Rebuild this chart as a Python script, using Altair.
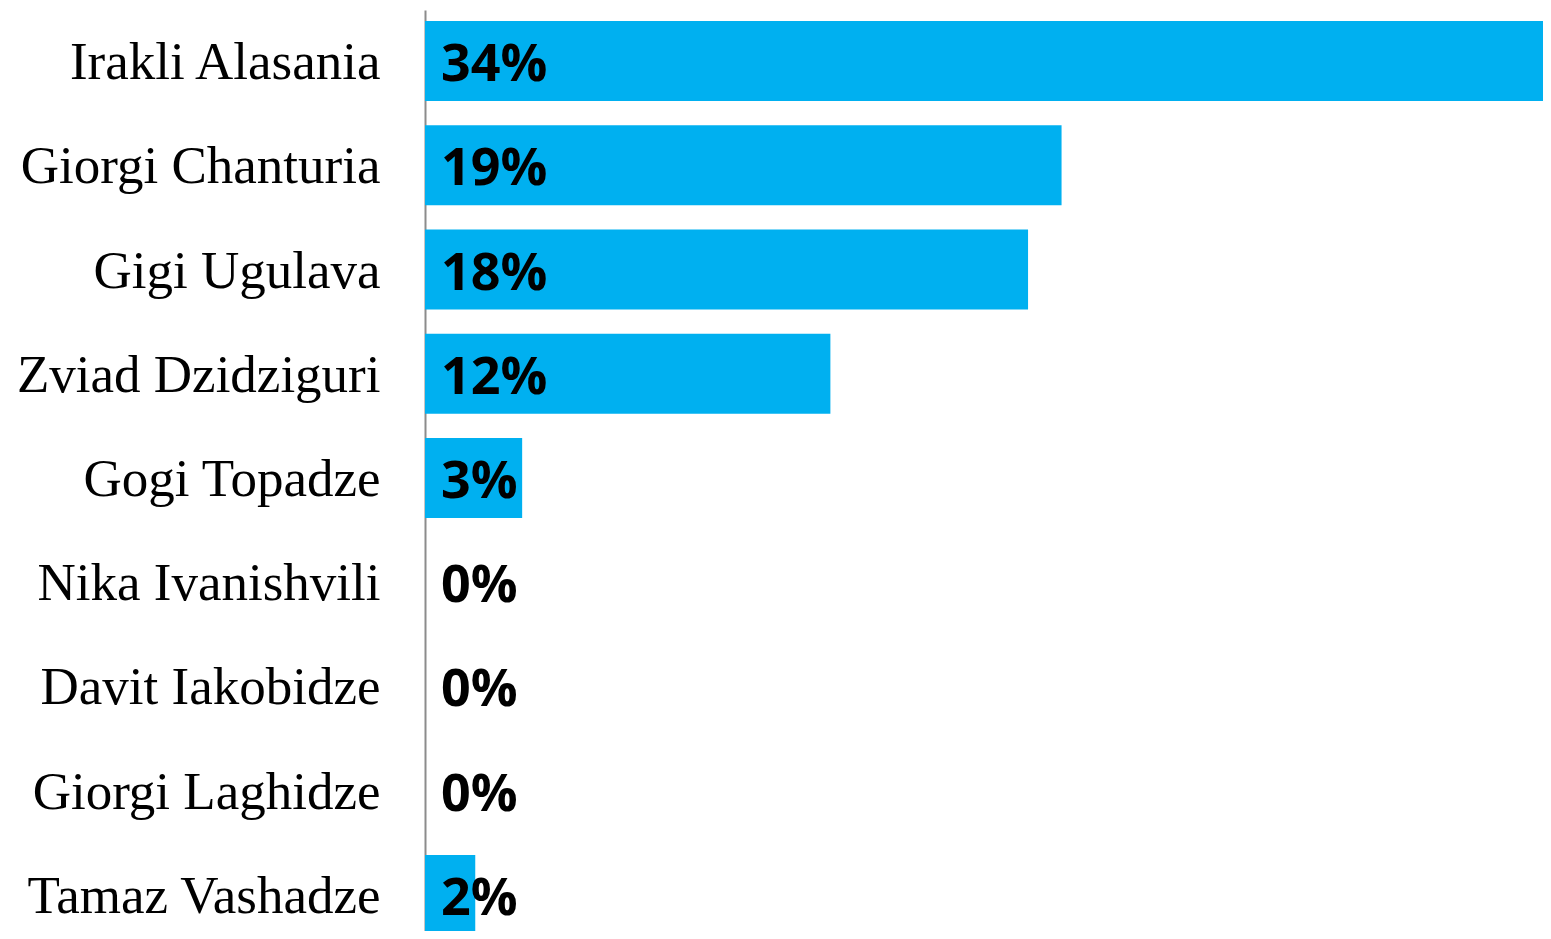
import altair as alt
import pandas as pd

names = ["Irakli Alasania", "Giorgi Chanturia", "Gigi Ugulava", "Zviad Dzidziguri",
         "Gogi Topadze", "Nika Ivanishvili", "Davit Iakobidze", "Giorgi Laghidze",
         "Tamaz Vashadze"]
values = [33.6, 19.0, 18.0, 12.1, 2.9, 0.0, 0.0, 0.0, 1.5]
labels = ["34%", "19%", "18%", "12%", "3%", "0%", "0%", "0%", "2%"]

df = pd.DataFrame({"name": names, "value": values, "label": labels})

y = alt.Y("name:N", sort=names, title=None,
          scale=alt.Scale(range=[0, 936], paddingInner=0.232, paddingOuter=0.1056),
          axis=alt.Axis(labelFont="Liberation Serif", labelFontSize=53, labelColor="#000000",
                        labelPadding=45, labelOffset=2, ticks=False, domainColor="#8c8c8c",
                        domainWidth=2, labelLimit=0))
x = alt.X("value:Q", title=None,
          scale=alt.Scale(domain=[0, 33.37], clamp=True, nice=False, zero=True),
          axis=None)

bars = alt.Chart(df).mark_bar(color="#00B0F0", cornerRadius=0).encode(x=x, y=y)
text = alt.Chart(df).mark_text(align="left", baseline="middle", dx=16, dy=4,
                               font="Open Sans", fontWeight="bold", fontSize=52,
                               color="#000000").encode(
    x=alt.value(0), y=alt.Y("name:N", sort=names), text="label:N")

chart = alt.layer(bars, text).properties(
    width=1118, height=921,
    autosize=alt.AutoSizeParams(type="none"),
    padding={"left": 417, "top": 2, "right": 0, "bottom": 0},
).configure_view(stroke=None).configure_axis(grid=False)

chart.save("out.html", embed_options={"renderer": "svg", "actions": False})
